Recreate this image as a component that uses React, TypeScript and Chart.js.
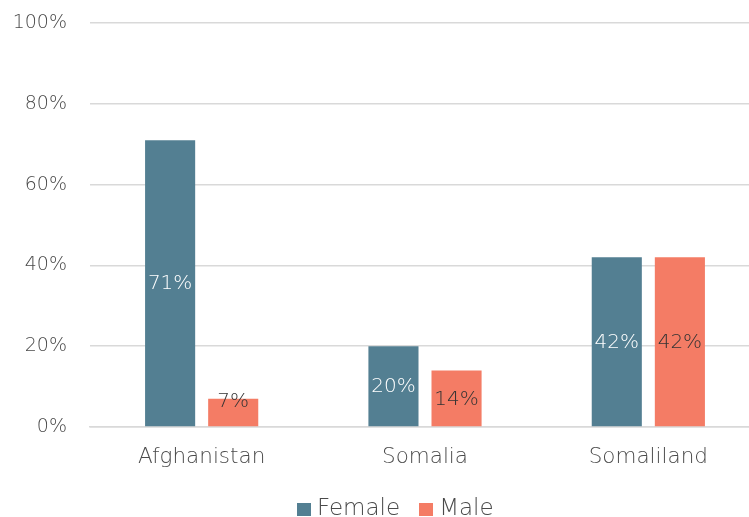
import React, { useEffect, useRef } from "react";
import { Chart, registerables } from "chart.js";

Chart.register(...registerables);

const categories = ["Afghanistan", "Somalia", "Somaliland"];
const femaleValues = [71, 20, 42];
const maleValues = [7, 14, 42];
const yTicks = [0, 20, 40, 60, 80, 100];
const seriesNames = ["Female", "Male"];
const seriesColors = ["#537F92", "#F47C65"];
const labelColors = ["#FFFFFF", "#333333"];

const FONT = "'DejaVu Sans', sans-serif";
const WEIGHT = 300;
const TEXT = "#4A4A4A";

const valueLabels = {
  id: "valueLabels",
  afterDatasetsDraw(chart: any) {
    const ctx = chart.ctx;
    ctx.save();
    ctx.font = `${WEIGHT} 20px ${FONT}`;
    ctx.textAlign = "center";
    ctx.textBaseline = "middle";
    chart.data.datasets.forEach((ds: any, di: number) => {
      const meta = chart.getDatasetMeta(di);
      meta.data.forEach((el: any, i: number) => {
        const v = ds.data[i];
        let y = (el.y + el.base) / 2;
        y = Math.min(y, el.base - 25);
        ctx.fillStyle = labelColors[di];
        ctx.fillText(`${v}%`, el.x, y + 1);
      });
    });
    ctx.restore();
  },
};

export default function App() {
  const ref = useRef<HTMLCanvasElement>(null);
  useEffect(() => {
    if (!ref.current) return;
    const chart = new Chart(ref.current, {
      type: "bar",
      data: {
        labels: categories,
        datasets: [
          { label: seriesNames[0], data: femaleValues, backgroundColor: seriesColors[0] },
          { label: seriesNames[1], data: maleValues, backgroundColor: seriesColors[1] },
        ],
      },
      options: {
        responsive: false,
        animation: false,
        devicePixelRatio: 1,
        layout: { padding: { top: 23, bottom: 0, left: 0, right: 0 } },
        datasets: {
          bar: { categoryPercentage: 0.565, barPercentage: 0.794 },
        },
        plugins: {
          legend: { display: false },
          tooltip: { enabled: false },
        },
        scales: {
          x: {
            afterFit: (s: any) => { s.height = 90; s.paddingLeft = 0; s.paddingRight = 0; },
            grid: { display: false, drawTicks: false },
            border: { display: true, color: "#D9D9D9", width: 1.5 },
            ticks: { color: TEXT, font: { family: FONT, size: 21.5, weight: WEIGHT }, padding: 18 },
          },
          y: {
            min: 0,
            max: 100,
            afterFit: (s: any) => { s.width = 90; s.paddingTop = 0; s.paddingBottom = 0; },
            afterBuildTicks: (s: any) => { s.ticks = yTicks.map((v) => ({ value: v })); },
            grid: { color: "#D9D9D9", lineWidth: 1.5, drawTicks: false },
            border: { display: false },
            ticks: {
              color: TEXT,
              font: { family: FONT, size: 19, weight: WEIGHT },
              padding: 23,
              callback: (v: any) => `${v}%`,
            },
          },
        },
      },
      plugins: [valueLabels],
    });
    return () => chart.destroy();
  }, []);

  return (
    <div style={{ position: "fixed", left: 0, top: 0, width: 760, height: 517, overflow: "hidden", background: "#fff" }}>
      <canvas ref={ref} width={760} height={517} style={{ display: "block" }} />
      <div
        style={{
          position: "absolute",
          left: 297,
          top: 494,
          display: "flex",
          alignItems: "center",
          fontFamily: FONT,
          fontWeight: WEIGHT,
          fontSize: 23,
          color: TEXT,
          lineHeight: "27px",
        }}
      >
        {seriesNames.map((n, i) => (
          <div key={n} style={{ display: "flex", alignItems: "center", marginRight: i === 0 ? 19 : 0 }}>
            <span style={{ width: 14, height: 13, background: seriesColors[i], display: "inline-block", marginRight: 6, marginTop: 3 }} />
            <span>{n}</span>
          </div>
        ))}
      </div>
    </div>
  );
}
